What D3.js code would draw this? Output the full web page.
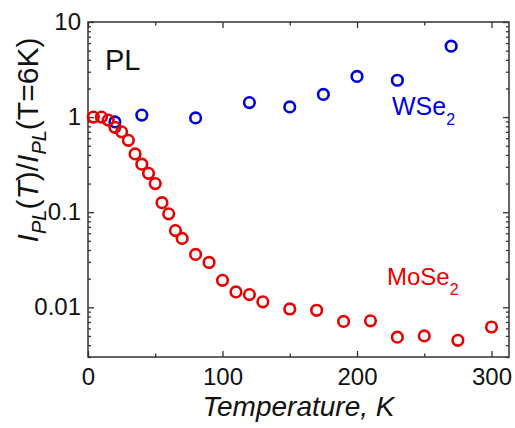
<!DOCTYPE html>
<html>
<head>
<meta charset="utf-8">
<script src="https://cdn.jsdelivr.net/npm/d3@7"></script>
<style>
  html, body { margin: 0; padding: 0; background: #fff; }
  svg { display: block; font-family: "Liberation Sans", Arial, sans-serif; }
</style>
</head>
<body>
<svg id="chart" width="515" height="428"></svg>
<script>
// ---- data ----
const mose2T = [4, 10, 15, 20, 25, 30, 35, 40, 45, 50, 55, 60, 65, 70, 80, 90, 100, 110, 120, 130, 150, 170, 190, 210, 230, 250, 275, 300];
const mose2V = [1.0, 1.0, 0.93, 0.78, 0.70, 0.57, 0.41, 0.32, 0.256, 0.20, 0.126, 0.096, 0.064, 0.053, 0.036, 0.0296, 0.0192, 0.0145, 0.0136, 0.0114, 0.0096, 0.0093, 0.0071, 0.0072, 0.00485, 0.0050, 0.00449, 0.0062];
const wse2T = [20, 40, 80, 120, 150, 175, 200, 230, 270];
const wse2V = [0.89, 1.05, 0.98, 1.42, 1.28, 1.73, 2.68, 2.44, 5.57];
const xMajorTicks = [0, 100, 200, 300];
const xMinorTicks = [50, 150, 250];
const yMajorTicks = [0.01, 0.1, 1, 10];
const yTickLabels = ["0.01", "0.1", "1", "10"];

// ---- layout ----
const L = 88, R = 509, T = 22, B = 357;
const svg = d3.select("#chart");
const x = d3.scaleLinear().domain([0, 313]).range([L, R]);
const y = d3.scaleLog().domain([0.003, 10]).range([B, T]);

const yMinorTicks = [];
[0.001, 0.01, 0.1, 1].forEach(d => { for (let k = 2; k <= 9; k++) { const v = d * k; if (v >= 0.003 && v <= 10) yMinorTicks.push(+v.toPrecision(3)); } });

const axisColor = "#333";
const tickFont = 24;

function styleAxis(g) {
  g.select(".domain").remove();
  g.selectAll(".tick line").attr("stroke", axisColor).attr("stroke-width", 1.3);
  g.selectAll(".tick text").attr("fill", "#111").style("font-size", tickFont + "px").style("font-family", '"Liberation Sans", Arial, sans-serif');
}

// bottom
svg.append("g").attr("transform", `translate(0,${B})`)
  .call(d3.axisBottom(x).tickValues(xMajorTicks).tickSize(-6).tickSizeOuter(0).tickPadding(11).tickFormat(d3.format("d")))
  .call(styleAxis);
svg.append("g").attr("transform", `translate(0,${B})`)
  .call(d3.axisBottom(x).tickValues(xMinorTicks).tickSize(-3.5).tickSizeOuter(0).tickFormat(""))
  .call(styleAxis);
// top
svg.append("g").attr("transform", `translate(0,${T})`)
  .call(d3.axisTop(x).tickValues(xMajorTicks).tickSize(-6).tickSizeOuter(0).tickFormat(""))
  .call(styleAxis);
svg.append("g").attr("transform", `translate(0,${T})`)
  .call(d3.axisTop(x).tickValues(xMinorTicks).tickSize(-3.5).tickSizeOuter(0).tickFormat(""))
  .call(styleAxis);
// left
svg.append("g").attr("transform", `translate(${L},0)`)
  .call(d3.axisLeft(y).tickValues(yMajorTicks).tickSize(-6).tickSizeOuter(0).tickPadding(7).tickFormat((d, i) => yTickLabels[i]))
  .call(styleAxis);
svg.append("g").attr("transform", `translate(${L},0)`)
  .call(d3.axisLeft(y).tickValues(yMinorTicks).tickSize(-3).tickSizeOuter(0).tickFormat(""))
  .call(styleAxis);
// right
svg.append("g").attr("transform", `translate(${R},0)`)
  .call(d3.axisRight(y).tickValues(yMajorTicks).tickSize(-6).tickSizeOuter(0).tickFormat(""))
  .call(styleAxis);
svg.append("g").attr("transform", `translate(${R},0)`)
  .call(d3.axisRight(y).tickValues(yMinorTicks).tickSize(-3).tickSizeOuter(0).tickFormat(""))
  .call(styleAxis);

// frame
svg.append("rect").attr("x", L).attr("y", T).attr("width", R - L).attr("height", B - T)
  .attr("fill", "none").attr("stroke", axisColor).attr("stroke-width", 1.5);

// data
const red = "#e60000", blue = "#0000dd";
const wse2 = wse2T.map((t, i) => ({ t, v: wse2V[i] }));
const mose2 = mose2T.map((t, i) => ({ t, v: mose2V[i] }));

svg.append("g").selectAll("circle").data(wse2).join("circle")
  .attr("cx", d => x(d.t)).attr("cy", d => y(d.v)).attr("r", 5.3)
  .attr("fill", "none").attr("stroke", blue).attr("stroke-width", 2.6);
svg.append("g").selectAll("circle").data(mose2).join("circle")
  .attr("cx", d => x(d.t)).attr("cy", d => y(d.v)).attr("r", 5.3)
  .attr("fill", "none").attr("stroke", red).attr("stroke-width", 2.6);

// labels
svg.append("text").attr("x", 105).attr("y", 70).attr("fill", "#111")
  .style("font-size", "29px").text("PL");

const wl = svg.append("text").attr("x", 392).attr("y", 115).attr("fill", blue).style("font-size", "25px");
wl.append("tspan").text("WSe");
wl.append("tspan").attr("dy", 10).style("font-size", "16px").text("2");

const ml = svg.append("text").attr("x", 387).attr("y", 285).attr("fill", red).style("font-size", "24px");
ml.append("tspan").text("MoSe");
ml.append("tspan").attr("dy", 10).style("font-size", "16px").text("2");

// x title
svg.append("text").attr("x", (L + R) / 2).attr("y", 416).attr("text-anchor", "middle")
  .attr("fill", "#111").style("font-size", "28px").style("font-style", "italic").text("Temperature, K");

// y title
const yt = svg.append("text").attr("transform", `translate(38,140) rotate(-90)`)
  .attr("text-anchor", "middle").attr("fill", "#111").style("font-size", "30px");
yt.append("tspan").style("font-style", "italic").text("I");
yt.append("tspan").attr("dy", 8).style("font-size", "20px").style("font-style", "italic").text("PL");
yt.append("tspan").attr("dy", -8).text("(");
yt.append("tspan").style("font-style", "italic").text("T");
yt.append("tspan").text(")/");
yt.append("tspan").style("font-style", "italic").text("I");
yt.append("tspan").attr("dy", 8).style("font-size", "20px").style("font-style", "italic").text("PL");
yt.append("tspan").attr("dy", -8).text("(T=6K)");
</script>
</body>
</html>
